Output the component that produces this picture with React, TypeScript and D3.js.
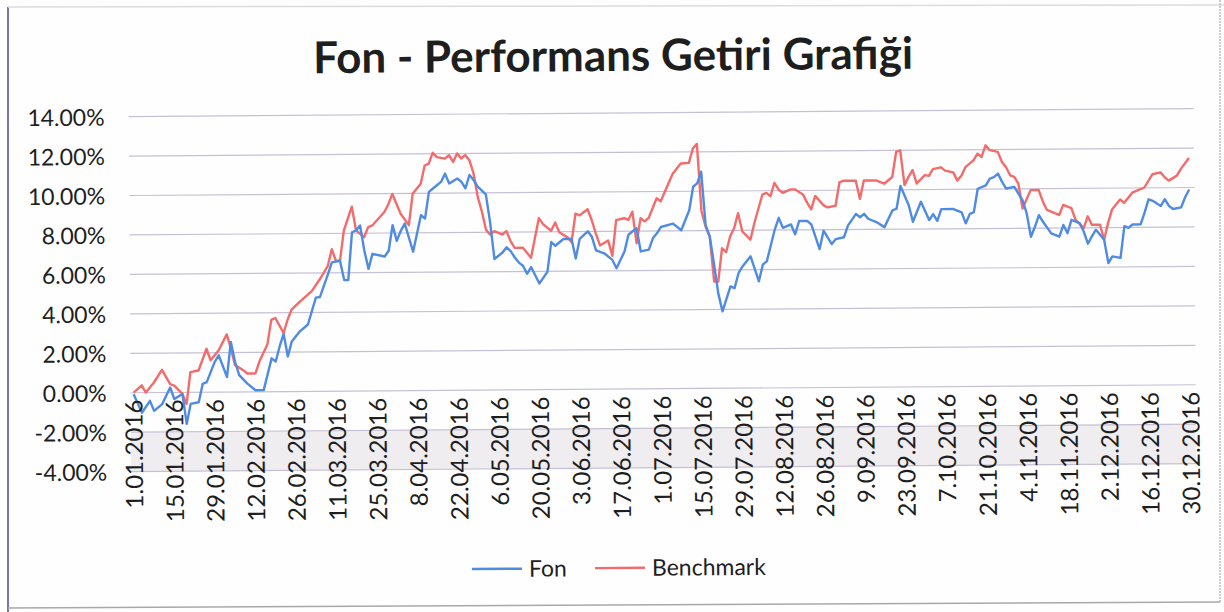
import React from 'react';
import * as d3 from 'd3';

// business-day categories, 1.01.2016 .. 30.12.2016 (261 days)
const categories: string[] = (() => {
    const out: string[] = [];
    const fmt = d3.timeFormat('%-d.%m.%Y');
    for (let d = new Date(2016, 0, 1); d <= new Date(2016, 11, 30); d = d3.timeDay.offset(d, 1)) {
        const wd = d.getDay();
        if (wd !== 0 && wd !== 6) out.push(fmt(d));
    }
    return out;
})();

const tickLabels = [
    '1.01.2016', '15.01.2016', '29.01.2016', '12.02.2016', '26.02.2016', '11.03.2016', '25.03.2016',
    '8.04.2016', '22.04.2016', '6.05.2016', '20.05.2016', '3.06.2016', '17.06.2016', '1.07.2016',
    '15.07.2016', '29.07.2016', '12.08.2016', '26.08.2016', '9.09.2016', '23.09.2016', '7.10.2016',
    '21.10.2016', '4.11.2016', '18.11.2016', '2.12.2016', '16.12.2016', '30.12.2016'
];

const yTicks = [-4, -2, 0, 2, 4, 6, 8, 10, 12, 14];

// [business-day index, % return]
const fonPoints: [number, number][] = [
    [0, -0.08], [2, -1.02], [4, -0.42], [5, -0.93], [7, -0.59], [9, 0.25], [10, -0.34], [12, -0.08], [13, -1.6],
    [14, -0.59], [16, -0.51], [17, 0.42], [18, 0.51], [20, 1.53], [21, 1.86], [23, 0.76], [24, 2.54], [25, 1.53],
    [26, 0.85], [28, 0.42], [30, 0.08], [32, 0.08], [34, 1.69], [35, 1.53], [36, 2.29], [37, 2.92], [38, 1.78],
    [39, 2.54], [41, 3.05], [43, 3.39], [45, 4.75], [46, 4.78], [48, 5.93], [49, 6.53], [51, 6.61], [52, 5.63],
    [53, 5.63], [54, 8.05], [55, 8.14], [56, 8.39], [57, 7.12], [58, 6.19], [59, 6.95], [62, 6.81], [63, 7.1],
    [64, 8.4], [65, 7.6], [66, 8.1], [67, 8.47], [69, 7.04], [70, 7.97], [71, 8.89], [72, 8.72], [73, 10.07],
    [74, 10.24], [76, 10.57], [77, 10.99], [78, 10.49], [80, 10.74], [81, 10.57], [82, 10.24], [83, 10.91],
    [84, 10.66], [85, 10.32], [87, 9.92], [88, 8.5], [89, 6.64], [91, 6.97], [92, 7.23], [93, 7.04], [94, 6.71],
    [95, 6.45], [96, 6.29], [97, 5.88], [98, 6.22], [100, 5.38], [102, 5.97], [103, 7.48], [104, 7.29], [106, 7.63],
    [108, 7.63], [109, 6.64], [110, 7.63], [112, 8.01], [113, 7.73], [114, 7.04], [116, 6.89], [118, 6.55],
    [119, 6.13], [121, 6.97], [122, 7.82], [124, 8.15], [125, 6.97], [127, 7.06], [128, 7.63], [129, 7.88],
    [130, 8.2], [133, 8.37], [135, 8.03], [137, 9.04], [138, 10.23], [139, 10.4], [140, 10.99], [141, 8.28],
    [142, 7.69], [143, 6.3], [144, 4.8], [145, 3.9], [147, 5.16], [148, 5.07], [149, 5.83], [150, 6.17], [152, 6.68],
    [154, 5.41], [155, 6.25], [156, 6.43], [158, 8.03], [159, 8.62], [160, 8.11], [162, 8.28], [163, 7.78],
    [164, 8.45], [166, 8.45], [167, 8.28], [169, 7.02], [170, 7.95], [172, 7.27], [173, 7.52], [175, 7.61],
    [176, 8.2], [178, 8.79], [179, 8.62], [180, 8.79], [181, 8.54], [183, 8.37], [185, 8.11], [187, 8.96],
    [188, 9.04], [189, 10.19], [191, 9.21], [192, 8.37], [194, 9.38], [196, 8.45], [197, 8.75], [198, 8.41],
    [199, 9.0], [202, 9.0], [204, 8.83], [205, 8.27], [206, 8.75], [207, 8.83], [208, 10.02], [210, 10.19],
    [211, 10.53], [212, 10.6], [213, 10.78], [214, 10.36], [215, 10.02], [217, 10.1], [219, 9.42], [220, 8.75],
    [221, 7.56], [222, 8.07], [223, 8.66], [224, 8.32], [226, 7.73], [228, 7.56], [229, 8.15], [230, 7.73],
    [231, 8.41], [233, 8.24], [234, 7.81], [235, 7.19], [236, 7.56], [237, 7.9], [239, 7.39], [240, 6.2],
    [241, 6.54], [243, 6.46], [244, 8.07], [245, 7.98], [246, 8.15], [248, 8.15], [249, 8.75], [250, 9.42],
    [251, 9.34], [253, 9.08], [254, 9.42], [255, 9.08], [256, 8.92], [258, 9.0], [259, 9.51], [260, 9.9]
];

const benchPoints: [number, number][] = [
    [0, 0], [2, 0.37], [3, 0], [5, 0.51], [7, 1.15], [9, 0.42], [10, 0.34], [12, -0.08], [13, -0.59], [14, 1.02],
    [16, 1.1], [18, 2.2], [19, 1.61], [21, 2.12], [23, 2.92], [24, 2.2], [25, 1.36], [27, 1.1], [28, 0.93],
    [30, 0.93], [31, 1.53], [33, 2.41], [34, 3.64], [35, 3.73], [37, 2.97], [38, 3.64], [39, 4.15], [41, 4.54],
    [44, 5.08], [46, 5.68], [48, 6.36], [49, 7.2], [50, 6.61], [51, 6.61], [52, 8.14], [54, 9.35], [55, 8.14],
    [57, 7.8], [58, 8.31], [59, 8.39], [62, 9.07], [63, 9.46], [64, 9.98], [66, 8.97], [68, 8.39], [69, 9.98],
    [71, 10.49], [72, 11.41], [73, 11.5], [74, 12.05], [75, 11.83], [77, 11.75], [78, 11.92], [79, 11.58],
    [80, 12.0], [81, 11.75], [82, 11.92], [83, 11.66], [84, 11.0], [85, 9.8], [86, 9.04], [87, 8.12], [88, 7.88],
    [89, 8.05], [91, 7.88], [92, 8.05], [93, 7.54], [94, 7.2], [96, 7.2], [98, 6.69], [100, 8.7], [101, 8.39],
    [103, 8.05], [104, 8.47], [105, 7.97], [107, 7.71], [108, 7.46], [109, 8.91], [110, 8.82], [112, 9.13],
    [113, 8.57], [114, 7.88], [115, 7.29], [117, 7.54], [118, 6.76], [119, 8.57], [121, 8.66], [122, 8.57],
    [123, 8.99], [124, 7.38], [125, 8.66], [126, 8.49], [127, 8.66], [129, 9.66], [130, 9.5], [131, 9.97],
    [133, 10.9], [135, 11.41], [137, 11.44], [138, 12.17], [139, 12.4], [140, 9.0], [141, 8.2], [142, 7.69],
    [143, 5.41], [144, 5.41], [145, 7.1], [146, 6.9], [147, 7.69], [148, 8.11], [149, 8.87], [150, 7.95],
    [152, 7.52], [153, 8.37], [155, 9.8], [156, 9.89], [157, 9.72], [158, 10.4], [159, 10.06], [160, 9.89],
    [162, 10.06], [163, 10.06], [165, 9.8], [166, 9.38], [167, 9.04], [168, 9.72], [170, 9.25], [171, 9.13],
    [173, 9.21], [174, 10.4], [175, 10.48], [178, 10.48], [179, 9.55], [180, 10.48], [183, 10.48], [185, 10.31],
    [187, 10.65], [188, 11.92], [189, 12.0], [190, 10.23], [191, 10.65], [192, 10.99], [193, 10.31], [195, 10.73],
    [196, 10.69], [197, 11.03], [199, 11.12], [200, 10.95], [202, 10.86], [203, 10.44], [204, 10.69], [205, 11.12],
    [207, 11.46], [208, 11.8], [209, 11.63], [210, 12.22], [211, 11.97], [213, 11.88], [214, 11.37], [215, 11.1],
    [216, 10.69], [217, 10.61], [218, 10.27], [219, 9.0], [221, 9.93], [223, 9.93], [224, 9.34], [225, 8.92],
    [226, 8.83], [228, 8.66], [229, 9.17], [231, 9.0], [232, 8.41], [234, 7.98], [235, 8.58], [236, 8.15],
    [238, 8.15], [239, 7.39], [240, 8.24], [241, 8.92], [243, 9.42], [244, 9.25], [246, 9.76], [247, 9.85],
    [249, 10.02], [250, 10.36], [251, 10.69], [253, 10.78], [254, 10.53], [255, 10.36], [257, 10.61],
    [258, 10.95], [260, 11.5]
];

const W = 1224;
const H = 612;
const FON_COLOR = '#4f8be3';
const BENCH_COLOR = '#f36b6b';
const GRID_COLOR = '#c6c0d6';
const FONT = 'Lato, "Open Sans", sans-serif';

const App: React.FC = () => {
    const xScale = d3.scalePoint<string>().domain(categories).range([133, 1190]);
    const yScale = d3.scaleLinear().domain([-4, 14]).range([468, 113]);

    const line = d3.line<[number, number]>()
        .x(d => xScale(categories[d[0]]) as number)
        .y(d => yScale(d[1]));

    const tickIdx = tickLabels.map(t => categories.indexOf(t));

    return (
        <svg width={W} height={H} style={{ position: 'absolute', left: 0, top: 0, background: '#fefefe' }}>
            {/* scanned frame */}
            <line x1={8} y1={7} x2={8} y2={612} stroke="#7b72b4" strokeWidth={2} />
            <line x1={8} y1={7} x2={1224} y2={5} stroke="#dcdcdc" strokeWidth={1.5} />
            <line x1={1220} y1={0} x2={1220} y2={603} stroke="#bdbdbd" strokeWidth={1.5} strokeDasharray="2,1" />
            <line x1={8} y1={608} x2={1220} y2={602} stroke="#a8a8a8" strokeWidth={1.5} />

            <g transform={`rotate(-0.43, ${W / 2}, ${H / 2})`}>
                <text x={615} y={71} textAnchor="middle" fontFamily={FONT} fontWeight={700}
                    fontSize={44} fill="#1e1e1e">Fon - Performans Getiri Grafiği</text>

                {/* light band between -2% and -4% */}
                <rect x={130} y={yScale(-2)} width={1065} height={yScale(-4) - yScale(-2)} fill="#efedf0" />

                {yTicks.map(t => (
                    <g key={t}>
                        <line x1={130} x2={1195} y1={yScale(t)} y2={yScale(t)} stroke={GRID_COLOR} strokeWidth={1.2} />
                        <text x={106} y={yScale(t)} dy="0.38em" textAnchor="end" fontFamily={FONT}
                            fontSize={23} fill="#1e1e1e">{t.toFixed(2)}%</text>
                    </g>
                ))}

                <path d={line(benchPoints) || ''} fill="none" stroke={BENCH_COLOR} strokeWidth={2.4} strokeLinejoin="round" />
                <path d={line(fonPoints) || ''} fill="none" stroke={FON_COLOR} strokeWidth={2.4} strokeLinejoin="round" />

                {tickLabels.map((t, k) => {
                    const x = xScale(categories[tickIdx[k]]) as number;
                    const y = yScale(0) + 7;
                    return (
                        <text key={t} transform={`translate(${x},${y}) rotate(-90)`} dy="0.36em"
                            textAnchor="end" fontFamily={FONT} fontSize={24} fill="#1e1e1e">{t}</text>
                    );
                })}

                {/* legend */}
                <line x1={470} x2={520} y1={568} y2={568} stroke={FON_COLOR} strokeWidth={2.4} />
                <text x={527} y={576} fontFamily={FONT} fontSize={23} fill="#1e1e1e">Fon</text>
                <line x1={593} x2={643} y1={568} y2={568} stroke={BENCH_COLOR} strokeWidth={2.4} />
                <text x={650} y={576} fontFamily={FONT} fontSize={23} fill="#1e1e1e">Benchmark</text>
            </g>
        </svg>
    );
};

export default App;
